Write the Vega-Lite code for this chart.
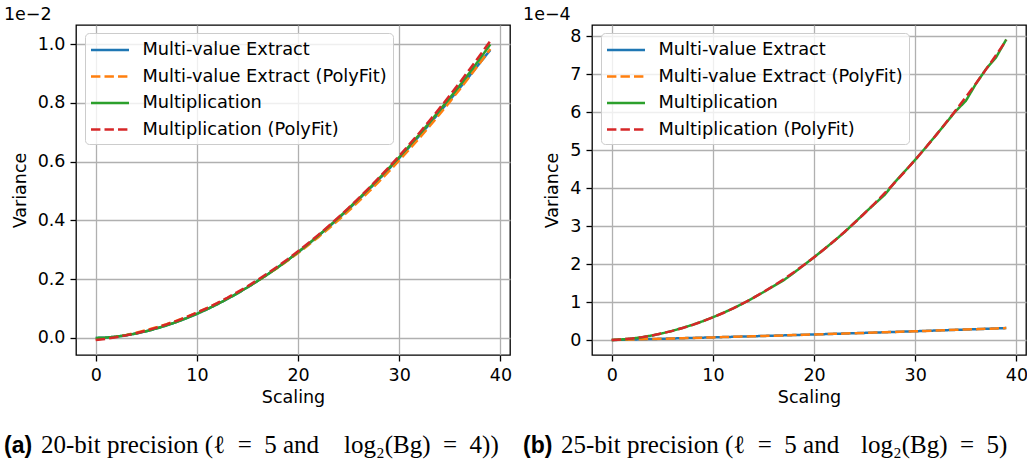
{
"$schema": "https://vega.github.io/schema/vega-lite/v6.json",
"padding": {"left": 3, "top": 4, "right": 0, "bottom": 0},
"background": "white",
"spacing": 82,
"bounds": "flush",
"resolve": {"scale": {"color": "independent", "strokeDash": "independent", "x": "independent", "y": "independent"}, "legend": {"color": "independent", "strokeDash": "independent"}},
"config": {
  "view": {"stroke": "black", "strokeWidth": 1.3},
  "axis": {"domain": false, "grid": true, "gridColor": "#b0b0b0", "gridWidth": 1.3, "tickColor": "black", "tickSize": 6, "tickWidth": 1.3, "labelFont": "DejaVu Sans", "labelFontSize": 17.5, "labelColor": "black", "labelPadding": 5, "labelFlush": false, "labelOverlap": false, "titleFont": "DejaVu Sans", "titleFontSize": 17.5, "titleFontWeight": "normal", "titleColor": "black"},
  "axisX": {"titlePadding": 5},
  "axisY": {"titlePadding": 8},
  "title": {"font": "DejaVu Sans", "fontSize": 17.5, "fontWeight": "normal", "color": "black", "anchor": "start", "baseline": "alphabetic", "offset": 2},
  "legend": {"padding": 5.5, "strokeColor": "#cccccc", "fillColor": "rgba(255,255,255,0.8)", "cornerRadius": 4, "symbolType": "M-1.9,0H1.9", "symbolSize": 400, "symbolOffset": 8, "symbolStrokeWidth": 2.5, "labelFont": "DejaVu Sans", "labelFontSize": 17.8, "labelColor": "black", "labelOffset": 21, "rowPadding": 5.5, "labelLimit": 400}
},
"datasets": {
"a": [
{"series":"Multi-value Extract","scaling":0,"variance":0},
{"series":"Multi-value Extract","scaling":1,"variance":0.0012},
{"series":"Multi-value Extract","scaling":2,"variance":0.0043},
{"series":"Multi-value Extract","scaling":3,"variance":0.0091},
{"series":"Multi-value Extract","scaling":4,"variance":0.0153},
{"series":"Multi-value Extract","scaling":5,"variance":0.0231},
{"series":"Multi-value Extract","scaling":6,"variance":0.0322},
{"series":"Multi-value Extract","scaling":7,"variance":0.0427},
{"series":"Multi-value Extract","scaling":8,"variance":0.0545},
{"series":"Multi-value Extract","scaling":9,"variance":0.0677},
{"series":"Multi-value Extract","scaling":10,"variance":0.082},
{"series":"Multi-value Extract","scaling":11,"variance":0.0977},
{"series":"Multi-value Extract","scaling":12,"variance":0.1145},
{"series":"Multi-value Extract","scaling":13,"variance":0.1326},
{"series":"Multi-value Extract","scaling":14,"variance":0.1519},
{"series":"Multi-value Extract","scaling":15,"variance":0.1723},
{"series":"Multi-value Extract","scaling":16,"variance":0.1938},
{"series":"Multi-value Extract","scaling":17,"variance":0.2165},
{"series":"Multi-value Extract","scaling":18,"variance":0.2404},
{"series":"Multi-value Extract","scaling":19,"variance":0.2654},
{"series":"Multi-value Extract","scaling":20,"variance":0.2916},
{"series":"Multi-value Extract","scaling":21,"variance":0.3188},
{"series":"Multi-value Extract","scaling":22,"variance":0.3471},
{"series":"Multi-value Extract","scaling":23,"variance":0.3766},
{"series":"Multi-value Extract","scaling":24,"variance":0.4071},
{"series":"Multi-value Extract","scaling":25,"variance":0.4386},
{"series":"Multi-value Extract","scaling":26,"variance":0.4712},
{"series":"Multi-value Extract","scaling":27,"variance":0.505},
{"series":"Multi-value Extract","scaling":28,"variance":0.5397},
{"series":"Multi-value Extract","scaling":29,"variance":0.5755},
{"series":"Multi-value Extract","scaling":30,"variance":0.6123},
{"series":"Multi-value Extract","scaling":31,"variance":0.65},
{"series":"Multi-value Extract","scaling":32,"variance":0.6885},
{"series":"Multi-value Extract","scaling":33,"variance":0.728},
{"series":"Multi-value Extract","scaling":34,"variance":0.7685},
{"series":"Multi-value Extract","scaling":35,"variance":0.8095},
{"series":"Multi-value Extract","scaling":36,"variance":0.8515},
{"series":"Multi-value Extract","scaling":37,"variance":0.894},
{"series":"Multi-value Extract","scaling":38,"variance":0.937},
{"series":"Multi-value Extract","scaling":39,"variance":0.98},
{"series":"Multi-value Extract (PolyFit)","scaling":0,"variance":-0.005},
{"series":"Multi-value Extract (PolyFit)","scaling":1,"variance":-0.0009},
{"series":"Multi-value Extract (PolyFit)","scaling":2,"variance":0.0042},
{"series":"Multi-value Extract (PolyFit)","scaling":3,"variance":0.0105},
{"series":"Multi-value Extract (PolyFit)","scaling":4,"variance":0.018},
{"series":"Multi-value Extract (PolyFit)","scaling":5,"variance":0.0265},
{"series":"Multi-value Extract (PolyFit)","scaling":6,"variance":0.0362},
{"series":"Multi-value Extract (PolyFit)","scaling":7,"variance":0.0469},
{"series":"Multi-value Extract (PolyFit)","scaling":8,"variance":0.0588},
{"series":"Multi-value Extract (PolyFit)","scaling":9,"variance":0.0719},
{"series":"Multi-value Extract (PolyFit)","scaling":10,"variance":0.086},
{"series":"Multi-value Extract (PolyFit)","scaling":11,"variance":0.1013},
{"series":"Multi-value Extract (PolyFit)","scaling":12,"variance":0.1176},
{"series":"Multi-value Extract (PolyFit)","scaling":13,"variance":0.1351},
{"series":"Multi-value Extract (PolyFit)","scaling":14,"variance":0.1538},
{"series":"Multi-value Extract (PolyFit)","scaling":15,"variance":0.1735},
{"series":"Multi-value Extract (PolyFit)","scaling":16,"variance":0.1944},
{"series":"Multi-value Extract (PolyFit)","scaling":17,"variance":0.2163},
{"series":"Multi-value Extract (PolyFit)","scaling":18,"variance":0.2394},
{"series":"Multi-value Extract (PolyFit)","scaling":19,"variance":0.2637},
{"series":"Multi-value Extract (PolyFit)","scaling":20,"variance":0.289},
{"series":"Multi-value Extract (PolyFit)","scaling":21,"variance":0.3155},
{"series":"Multi-value Extract (PolyFit)","scaling":22,"variance":0.343},
{"series":"Multi-value Extract (PolyFit)","scaling":23,"variance":0.3717},
{"series":"Multi-value Extract (PolyFit)","scaling":24,"variance":0.4016},
{"series":"Multi-value Extract (PolyFit)","scaling":25,"variance":0.4325},
{"series":"Multi-value Extract (PolyFit)","scaling":26,"variance":0.4646},
{"series":"Multi-value Extract (PolyFit)","scaling":27,"variance":0.4977},
{"series":"Multi-value Extract (PolyFit)","scaling":28,"variance":0.532},
{"series":"Multi-value Extract (PolyFit)","scaling":29,"variance":0.5675},
{"series":"Multi-value Extract (PolyFit)","scaling":30,"variance":0.604},
{"series":"Multi-value Extract (PolyFit)","scaling":31,"variance":0.6417},
{"series":"Multi-value Extract (PolyFit)","scaling":32,"variance":0.6804},
{"series":"Multi-value Extract (PolyFit)","scaling":33,"variance":0.7203},
{"series":"Multi-value Extract (PolyFit)","scaling":34,"variance":0.7614},
{"series":"Multi-value Extract (PolyFit)","scaling":35,"variance":0.8035},
{"series":"Multi-value Extract (PolyFit)","scaling":36,"variance":0.8468},
{"series":"Multi-value Extract (PolyFit)","scaling":37,"variance":0.8911},
{"series":"Multi-value Extract (PolyFit)","scaling":38,"variance":0.9366},
{"series":"Multi-value Extract (PolyFit)","scaling":39,"variance":0.9833},
{"series":"Multiplication","scaling":0,"variance":0},
{"series":"Multiplication","scaling":1,"variance":0.0012},
{"series":"Multiplication","scaling":2,"variance":0.0043},
{"series":"Multiplication","scaling":3,"variance":0.0091},
{"series":"Multiplication","scaling":4,"variance":0.0153},
{"series":"Multiplication","scaling":5,"variance":0.0231},
{"series":"Multiplication","scaling":6,"variance":0.0322},
{"series":"Multiplication","scaling":7,"variance":0.0427},
{"series":"Multiplication","scaling":8,"variance":0.0545},
{"series":"Multiplication","scaling":9,"variance":0.0677},
{"series":"Multiplication","scaling":10,"variance":0.082},
{"series":"Multiplication","scaling":11,"variance":0.0977},
{"series":"Multiplication","scaling":12,"variance":0.1145},
{"series":"Multiplication","scaling":13,"variance":0.1326},
{"series":"Multiplication","scaling":14,"variance":0.1519},
{"series":"Multiplication","scaling":15,"variance":0.1723},
{"series":"Multiplication","scaling":16,"variance":0.1938},
{"series":"Multiplication","scaling":17,"variance":0.2165},
{"series":"Multiplication","scaling":18,"variance":0.2404},
{"series":"Multiplication","scaling":19,"variance":0.2656},
{"series":"Multiplication","scaling":20,"variance":0.292},
{"series":"Multiplication","scaling":21,"variance":0.3195},
{"series":"Multiplication","scaling":22,"variance":0.348},
{"series":"Multiplication","scaling":23,"variance":0.378},
{"series":"Multiplication","scaling":24,"variance":0.409},
{"series":"Multiplication","scaling":25,"variance":0.441},
{"series":"Multiplication","scaling":26,"variance":0.474},
{"series":"Multiplication","scaling":27,"variance":0.508},
{"series":"Multiplication","scaling":28,"variance":0.543},
{"series":"Multiplication","scaling":29,"variance":0.579},
{"series":"Multiplication","scaling":30,"variance":0.615},
{"series":"Multiplication","scaling":31,"variance":0.6535},
{"series":"Multiplication","scaling":32,"variance":0.693},
{"series":"Multiplication","scaling":33,"variance":0.7335},
{"series":"Multiplication","scaling":34,"variance":0.775},
{"series":"Multiplication","scaling":35,"variance":0.817},
{"series":"Multiplication","scaling":36,"variance":0.86},
{"series":"Multiplication","scaling":37,"variance":0.905},
{"series":"Multiplication","scaling":38,"variance":0.951},
{"series":"Multiplication","scaling":39,"variance":0.999},
{"series":"Multiplication (PolyFit)","scaling":0,"variance":-0.007},
{"series":"Multiplication (PolyFit)","scaling":1,"variance":-0.0029},
{"series":"Multiplication (PolyFit)","scaling":2,"variance":0.0024},
{"series":"Multiplication (PolyFit)","scaling":3,"variance":0.0088},
{"series":"Multiplication (PolyFit)","scaling":4,"variance":0.0163},
{"series":"Multiplication (PolyFit)","scaling":5,"variance":0.0251},
{"series":"Multiplication (PolyFit)","scaling":6,"variance":0.035},
{"series":"Multiplication (PolyFit)","scaling":7,"variance":0.046},
{"series":"Multiplication (PolyFit)","scaling":8,"variance":0.0582},
{"series":"Multiplication (PolyFit)","scaling":9,"variance":0.0716},
{"series":"Multiplication (PolyFit)","scaling":10,"variance":0.0861},
{"series":"Multiplication (PolyFit)","scaling":11,"variance":0.1018},
{"series":"Multiplication (PolyFit)","scaling":12,"variance":0.1186},
{"series":"Multiplication (PolyFit)","scaling":13,"variance":0.1366},
{"series":"Multiplication (PolyFit)","scaling":14,"variance":0.1558},
{"series":"Multiplication (PolyFit)","scaling":15,"variance":0.1761},
{"series":"Multiplication (PolyFit)","scaling":16,"variance":0.1975},
{"series":"Multiplication (PolyFit)","scaling":17,"variance":0.2202},
{"series":"Multiplication (PolyFit)","scaling":18,"variance":0.244},
{"series":"Multiplication (PolyFit)","scaling":19,"variance":0.2689},
{"series":"Multiplication (PolyFit)","scaling":20,"variance":0.295},
{"series":"Multiplication (PolyFit)","scaling":21,"variance":0.3223},
{"series":"Multiplication (PolyFit)","scaling":22,"variance":0.3507},
{"series":"Multiplication (PolyFit)","scaling":23,"variance":0.3803},
{"series":"Multiplication (PolyFit)","scaling":24,"variance":0.411},
{"series":"Multiplication (PolyFit)","scaling":25,"variance":0.4429},
{"series":"Multiplication (PolyFit)","scaling":26,"variance":0.4759},
{"series":"Multiplication (PolyFit)","scaling":27,"variance":0.5101},
{"series":"Multiplication (PolyFit)","scaling":28,"variance":0.5455},
{"series":"Multiplication (PolyFit)","scaling":29,"variance":0.582},
{"series":"Multiplication (PolyFit)","scaling":30,"variance":0.6197},
{"series":"Multiplication (PolyFit)","scaling":31,"variance":0.6585},
{"series":"Multiplication (PolyFit)","scaling":32,"variance":0.6985},
{"series":"Multiplication (PolyFit)","scaling":33,"variance":0.7397},
{"series":"Multiplication (PolyFit)","scaling":34,"variance":0.782},
{"series":"Multiplication (PolyFit)","scaling":35,"variance":0.8255},
{"series":"Multiplication (PolyFit)","scaling":36,"variance":0.8701},
{"series":"Multiplication (PolyFit)","scaling":37,"variance":0.9159},
{"series":"Multiplication (PolyFit)","scaling":38,"variance":0.9628},
{"series":"Multiplication (PolyFit)","scaling":39,"variance":1.0109}
],
"b": [
{"series":"Multi-value Extract","scaling":0,"variance":0},
{"series":"Multi-value Extract","scaling":1,"variance":0.0065},
{"series":"Multi-value Extract","scaling":2,"variance":0.0132},
{"series":"Multi-value Extract","scaling":3,"variance":0.0199},
{"series":"Multi-value Extract","scaling":4,"variance":0.0266},
{"series":"Multi-value Extract","scaling":5,"variance":0.0335},
{"series":"Multi-value Extract","scaling":6,"variance":0.0404},
{"series":"Multi-value Extract","scaling":7,"variance":0.0475},
{"series":"Multi-value Extract","scaling":8,"variance":0.0546},
{"series":"Multi-value Extract","scaling":9,"variance":0.0617},
{"series":"Multi-value Extract","scaling":10,"variance":0.069},
{"series":"Multi-value Extract","scaling":11,"variance":0.0764},
{"series":"Multi-value Extract","scaling":12,"variance":0.0838},
{"series":"Multi-value Extract","scaling":13,"variance":0.0913},
{"series":"Multi-value Extract","scaling":14,"variance":0.0988},
{"series":"Multi-value Extract","scaling":15,"variance":0.1065},
{"series":"Multi-value Extract","scaling":16,"variance":0.1142},
{"series":"Multi-value Extract","scaling":17,"variance":0.1221},
{"series":"Multi-value Extract","scaling":18,"variance":0.13},
{"series":"Multi-value Extract","scaling":19,"variance":0.1379},
{"series":"Multi-value Extract","scaling":20,"variance":0.146},
{"series":"Multi-value Extract","scaling":21,"variance":0.1541},
{"series":"Multi-value Extract","scaling":22,"variance":0.1624},
{"series":"Multi-value Extract","scaling":23,"variance":0.1707},
{"series":"Multi-value Extract","scaling":24,"variance":0.179},
{"series":"Multi-value Extract","scaling":25,"variance":0.1875},
{"series":"Multi-value Extract","scaling":26,"variance":0.196},
{"series":"Multi-value Extract","scaling":27,"variance":0.2047},
{"series":"Multi-value Extract","scaling":28,"variance":0.2134},
{"series":"Multi-value Extract","scaling":29,"variance":0.2221},
{"series":"Multi-value Extract","scaling":30,"variance":0.231},
{"series":"Multi-value Extract","scaling":31,"variance":0.2399},
{"series":"Multi-value Extract","scaling":32,"variance":0.249},
{"series":"Multi-value Extract","scaling":33,"variance":0.2581},
{"series":"Multi-value Extract","scaling":34,"variance":0.2672},
{"series":"Multi-value Extract","scaling":35,"variance":0.2765},
{"series":"Multi-value Extract","scaling":36,"variance":0.2858},
{"series":"Multi-value Extract","scaling":37,"variance":0.2953},
{"series":"Multi-value Extract","scaling":38,"variance":0.3048},
{"series":"Multi-value Extract","scaling":39,"variance":0.3143},
{"series":"Multi-value Extract (PolyFit)","scaling":0,"variance":0.001},
{"series":"Multi-value Extract (PolyFit)","scaling":1,"variance":0.0073},
{"series":"Multi-value Extract (PolyFit)","scaling":2,"variance":0.0138},
{"series":"Multi-value Extract (PolyFit)","scaling":3,"variance":0.0204},
{"series":"Multi-value Extract (PolyFit)","scaling":4,"variance":0.027},
{"series":"Multi-value Extract (PolyFit)","scaling":5,"variance":0.0338},
{"series":"Multi-value Extract (PolyFit)","scaling":6,"variance":0.0406},
{"series":"Multi-value Extract (PolyFit)","scaling":7,"variance":0.0476},
{"series":"Multi-value Extract (PolyFit)","scaling":8,"variance":0.0546},
{"series":"Multi-value Extract (PolyFit)","scaling":9,"variance":0.0617},
{"series":"Multi-value Extract (PolyFit)","scaling":10,"variance":0.0689},
{"series":"Multi-value Extract (PolyFit)","scaling":11,"variance":0.0762},
{"series":"Multi-value Extract (PolyFit)","scaling":12,"variance":0.0836},
{"series":"Multi-value Extract (PolyFit)","scaling":13,"variance":0.0911},
{"series":"Multi-value Extract (PolyFit)","scaling":14,"variance":0.0987},
{"series":"Multi-value Extract (PolyFit)","scaling":15,"variance":0.1063},
{"series":"Multi-value Extract (PolyFit)","scaling":16,"variance":0.1141},
{"series":"Multi-value Extract (PolyFit)","scaling":17,"variance":0.1219},
{"series":"Multi-value Extract (PolyFit)","scaling":18,"variance":0.1298},
{"series":"Multi-value Extract (PolyFit)","scaling":19,"variance":0.1378},
{"series":"Multi-value Extract (PolyFit)","scaling":20,"variance":0.1459},
{"series":"Multi-value Extract (PolyFit)","scaling":21,"variance":0.1541},
{"series":"Multi-value Extract (PolyFit)","scaling":22,"variance":0.1624},
{"series":"Multi-value Extract (PolyFit)","scaling":23,"variance":0.1707},
{"series":"Multi-value Extract (PolyFit)","scaling":24,"variance":0.1791},
{"series":"Multi-value Extract (PolyFit)","scaling":25,"variance":0.1876},
{"series":"Multi-value Extract (PolyFit)","scaling":26,"variance":0.1962},
{"series":"Multi-value Extract (PolyFit)","scaling":27,"variance":0.2049},
{"series":"Multi-value Extract (PolyFit)","scaling":28,"variance":0.2136},
{"series":"Multi-value Extract (PolyFit)","scaling":29,"variance":0.2224},
{"series":"Multi-value Extract (PolyFit)","scaling":30,"variance":0.2313},
{"series":"Multi-value Extract (PolyFit)","scaling":31,"variance":0.2403},
{"series":"Multi-value Extract (PolyFit)","scaling":32,"variance":0.2493},
{"series":"Multi-value Extract (PolyFit)","scaling":33,"variance":0.2584},
{"series":"Multi-value Extract (PolyFit)","scaling":34,"variance":0.2676},
{"series":"Multi-value Extract (PolyFit)","scaling":35,"variance":0.2768},
{"series":"Multi-value Extract (PolyFit)","scaling":36,"variance":0.2861},
{"series":"Multi-value Extract (PolyFit)","scaling":37,"variance":0.2955},
{"series":"Multi-value Extract (PolyFit)","scaling":38,"variance":0.3049},
{"series":"Multi-value Extract (PolyFit)","scaling":39,"variance":0.3144},
{"series":"Multiplication","scaling":0,"variance":0},
{"series":"Multiplication","scaling":1,"variance":0.015},
{"series":"Multiplication","scaling":2,"variance":0.04},
{"series":"Multiplication","scaling":3,"variance":0.074},
{"series":"Multiplication","scaling":4,"variance":0.12},
{"series":"Multiplication","scaling":5,"variance":0.176},
{"series":"Multiplication","scaling":6,"variance":0.242},
{"series":"Multiplication","scaling":7,"variance":0.318},
{"series":"Multiplication","scaling":8,"variance":0.402},
{"series":"Multiplication","scaling":9,"variance":0.495},
{"series":"Multiplication","scaling":10,"variance":0.6},
{"series":"Multiplication","scaling":11,"variance":0.712},
{"series":"Multiplication","scaling":12,"variance":0.833},
{"series":"Multiplication","scaling":13,"variance":0.965},
{"series":"Multiplication","scaling":14,"variance":1.11},
{"series":"Multiplication","scaling":15,"variance":1.262},
{"series":"Multiplication","scaling":16,"variance":1.42},
{"series":"Multiplication","scaling":17,"variance":1.575},
{"series":"Multiplication","scaling":18,"variance":1.77},
{"series":"Multiplication","scaling":19,"variance":1.975},
{"series":"Multiplication","scaling":20,"variance":2.18},
{"series":"Multiplication","scaling":21,"variance":2.395},
{"series":"Multiplication","scaling":22,"variance":2.61},
{"series":"Multiplication","scaling":23,"variance":2.84},
{"series":"Multiplication","scaling":24,"variance":3.09},
{"series":"Multiplication","scaling":25,"variance":3.345},
{"series":"Multiplication","scaling":26,"variance":3.59},
{"series":"Multiplication","scaling":27,"variance":3.83},
{"series":"Multiplication","scaling":28,"variance":4.165},
{"series":"Multiplication","scaling":29,"variance":4.455},
{"series":"Multiplication","scaling":30,"variance":4.75},
{"series":"Multiplication","scaling":31,"variance":5.06},
{"series":"Multiplication","scaling":32,"variance":5.38},
{"series":"Multiplication","scaling":33,"variance":5.705},
{"series":"Multiplication","scaling":34,"variance":6.03},
{"series":"Multiplication","scaling":35,"variance":6.3},
{"series":"Multiplication","scaling":36,"variance":6.75},
{"series":"Multiplication","scaling":37,"variance":7.14},
{"series":"Multiplication","scaling":38,"variance":7.45},
{"series":"Multiplication","scaling":39,"variance":7.92},
{"series":"Multiplication (PolyFit)","scaling":0,"variance":0},
{"series":"Multiplication (PolyFit)","scaling":1,"variance":0.0154},
{"series":"Multiplication (PolyFit)","scaling":2,"variance":0.0407},
{"series":"Multiplication (PolyFit)","scaling":3,"variance":0.0758},
{"series":"Multiplication (PolyFit)","scaling":4,"variance":0.1208},
{"series":"Multiplication (PolyFit)","scaling":5,"variance":0.1756},
{"series":"Multiplication (PolyFit)","scaling":6,"variance":0.2403},
{"series":"Multiplication (PolyFit)","scaling":7,"variance":0.3148},
{"series":"Multiplication (PolyFit)","scaling":8,"variance":0.3992},
{"series":"Multiplication (PolyFit)","scaling":9,"variance":0.4934},
{"series":"Multiplication (PolyFit)","scaling":10,"variance":0.5975},
{"series":"Multiplication (PolyFit)","scaling":11,"variance":0.7114},
{"series":"Multiplication (PolyFit)","scaling":12,"variance":0.8352},
{"series":"Multiplication (PolyFit)","scaling":13,"variance":0.9688},
{"series":"Multiplication (PolyFit)","scaling":14,"variance":1.1123},
{"series":"Multiplication (PolyFit)","scaling":15,"variance":1.2656},
{"series":"Multiplication (PolyFit)","scaling":16,"variance":1.4288},
{"series":"Multiplication (PolyFit)","scaling":17,"variance":1.6018},
{"series":"Multiplication (PolyFit)","scaling":18,"variance":1.7847},
{"series":"Multiplication (PolyFit)","scaling":19,"variance":1.9774},
{"series":"Multiplication (PolyFit)","scaling":20,"variance":2.18},
{"series":"Multiplication (PolyFit)","scaling":21,"variance":2.3924},
{"series":"Multiplication (PolyFit)","scaling":22,"variance":2.6147},
{"series":"Multiplication (PolyFit)","scaling":23,"variance":2.8468},
{"series":"Multiplication (PolyFit)","scaling":24,"variance":3.0888},
{"series":"Multiplication (PolyFit)","scaling":25,"variance":3.3406},
{"series":"Multiplication (PolyFit)","scaling":26,"variance":3.6023},
{"series":"Multiplication (PolyFit)","scaling":27,"variance":3.8738},
{"series":"Multiplication (PolyFit)","scaling":28,"variance":4.1552},
{"series":"Multiplication (PolyFit)","scaling":29,"variance":4.4464},
{"series":"Multiplication (PolyFit)","scaling":30,"variance":4.7475},
{"series":"Multiplication (PolyFit)","scaling":31,"variance":5.0584},
{"series":"Multiplication (PolyFit)","scaling":32,"variance":5.3792},
{"series":"Multiplication (PolyFit)","scaling":33,"variance":5.7098},
{"series":"Multiplication (PolyFit)","scaling":34,"variance":6.0503},
{"series":"Multiplication (PolyFit)","scaling":35,"variance":6.4006},
{"series":"Multiplication (PolyFit)","scaling":36,"variance":6.7608},
{"series":"Multiplication (PolyFit)","scaling":37,"variance":7.1308},
{"series":"Multiplication (PolyFit)","scaling":38,"variance":7.5107},
{"series":"Multiplication (PolyFit)","scaling":39,"variance":7.9004}
]
},
"hconcat": [
{
  "width": 434, "height": 330,
  "title": {"text": "1e−2"},
  "layer": [
    {
      "data": {"name": "a"},
      "mark": {"type": "line", "strokeWidth": 2.5},
      "encoding": {
        "x": {"field": "scaling", "type": "quantitative", "title": "Scaling", "scale": {"domain": [-1.95, 40.95], "nice": false, "zero": false}, "axis": {"values": [0, 10, 20, 30, 40], "format": "d"}},
        "y": {"field": "variance", "type": "quantitative", "title": "Variance", "scale": {"domain": [-0.058, 1.065], "nice": false, "zero": false}, "axis": {"values": [0, 0.2, 0.4, 0.6, 0.8, 1.0], "format": ".1f"}},
        "color": {"field": "series", "type": "nominal", "title": null, "scale": {"domain": ["Multi-value Extract", "Multi-value Extract (PolyFit)", "Multiplication", "Multiplication (PolyFit)"], "range": ["#1f77b4", "#ff7f0e", "#2ca02c", "#d62728"]}, "legend": {"orient": "none", "legendX": 9, "legendY": 8}},
        "strokeDash": {"field": "series", "type": "nominal", "title": null, "scale": {"domain": ["Multi-value Extract", "Multi-value Extract (PolyFit)", "Multiplication", "Multiplication (PolyFit)"], "range": [[1, 0], [9.4, 4.1], [1, 0], [9.4, 4.1]]}, "legend": {"orient": "none", "legendX": 9, "legendY": 8}}
      }
    },
    {
      "data": {"values": [{"caption": "(a)"}]},
      "mark": {"type": "text", "align": "left", "baseline": "alphabetic", "font": "Liberation Sans", "fontWeight": "bold", "fontSize": 23, "color": "black"},
      "encoding": {"x": {"datum": -9.07}, "y": {"datum": -0.391}, "text": {"field": "caption"}}
    },
    {
      "data": {"values": [{"caption": "20-bit precision (ℓ\u2002=\u20025 and"}]},
      "mark": {"type": "text", "align": "left", "baseline": "alphabetic", "font": "Liberation Serif", "fontSize": 25, "color": "black"},
      "encoding": {"x": {"datum": -5.41}, "y": {"datum": -0.391}, "text": {"field": "caption"}}
    },
    {
      "data": {"values": [{"caption": "log₂(Bg)\u2002=\u20024))"}]},
      "mark": {"type": "text", "align": "left", "baseline": "alphabetic", "font": "Liberation Serif", "fontSize": 25, "color": "black"},
      "encoding": {"x": {"datum": 24.54}, "y": {"datum": -0.391}, "text": {"field": "caption"}}
    }
  ]
},
{
  "width": 434, "height": 330,
  "title": {"text": "1e−4"},
  "layer": [
    {
      "data": {"name": "b"},
      "mark": {"type": "line", "strokeWidth": 2.5},
      "encoding": {
        "x": {"field": "scaling", "type": "quantitative", "title": "Scaling", "scale": {"domain": [-1.95, 40.95], "nice": false, "zero": false}, "axis": {"values": [0, 10, 20, 30, 40], "format": "d"}},
        "y": {"field": "variance", "type": "quantitative", "title": "Variance", "scale": {"domain": [-0.395, 8.3], "nice": false, "zero": false}, "axis": {"values": [0, 1, 2, 3, 4, 5, 6, 7, 8], "format": "d"}},
        "color": {"field": "series", "type": "nominal", "title": null, "scale": {"domain": ["Multi-value Extract", "Multi-value Extract (PolyFit)", "Multiplication", "Multiplication (PolyFit)"], "range": ["#1f77b4", "#ff7f0e", "#2ca02c", "#d62728"]}, "legend": {"orient": "none", "legendX": 9, "legendY": 8}},
        "strokeDash": {"field": "series", "type": "nominal", "title": null, "scale": {"domain": ["Multi-value Extract", "Multi-value Extract (PolyFit)", "Multiplication", "Multiplication (PolyFit)"], "range": [[1, 0], [9.4, 4.1], [1, 0], [9.4, 4.1]]}, "legend": {"orient": "none", "legendX": 9, "legendY": 8}}
      }
    },
    {
      "data": {"values": [{"caption": "(b)"}]},
      "mark": {"type": "text", "align": "left", "baseline": "alphabetic", "font": "Liberation Sans", "fontWeight": "bold", "fontSize": 23, "color": "black"},
      "encoding": {"x": {"datum": -8.77}, "y": {"datum": -2.98}, "text": {"field": "caption"}}
    },
    {
      "data": {"values": [{"caption": "25-bit precision (ℓ\u2002=\u20025 and"}]},
      "mark": {"type": "text", "align": "left", "baseline": "alphabetic", "font": "Liberation Serif", "fontSize": 25, "color": "black"},
      "encoding": {"x": {"datum": -5.01}, "y": {"datum": -2.98}, "text": {"field": "caption"}}
    },
    {
      "data": {"values": [{"caption": "log₂(Bg)\u2002=\u20025)"}]},
      "mark": {"type": "text", "align": "left", "baseline": "alphabetic", "font": "Liberation Serif", "fontSize": 25, "color": "black"},
      "encoding": {"x": {"datum": 24.64}, "y": {"datum": -2.98}, "text": {"field": "caption"}}
    }
  ]
}
]
}
